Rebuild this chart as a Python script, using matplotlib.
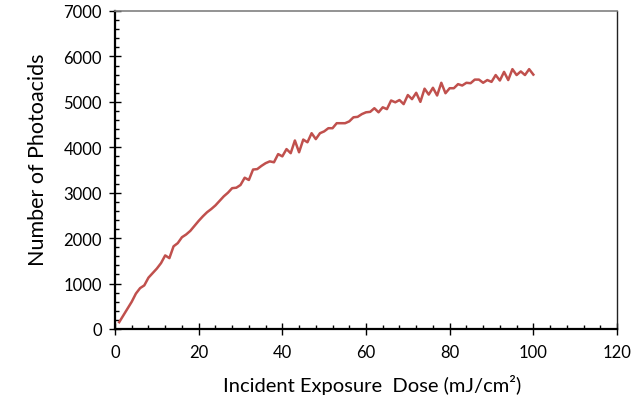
import matplotlib
matplotlib.use("Agg")
import matplotlib.pyplot as plt
from matplotlib.ticker import MultipleLocator

dose = list(range(1, 101))
photoacids = [
    150, 300, 450, 600, 780, 900, 960, 1130, 1230, 1330,
    1450, 1620, 1560, 1820, 1890, 2020, 2080, 2160, 2270, 2380,
    2480, 2570, 2640, 2720, 2820, 2920, 3000, 3100, 3110, 3170,
    3330, 3280, 3510, 3520, 3590, 3650, 3690, 3670, 3850, 3800,
    3960, 3870, 4150, 3890, 4170, 4110, 4310, 4180, 4310, 4350,
    4420, 4420, 4530, 4530, 4530, 4570, 4660, 4670, 4730, 4770,
    4780, 4860, 4770, 4880, 4840, 5030, 4990, 5040, 4950, 5150,
    5060, 5200, 5000, 5290, 5160, 5310, 5140, 5420, 5190, 5300,
    5300, 5390, 5360, 5420, 5410, 5490, 5490, 5420, 5480, 5440,
    5590, 5470, 5660, 5480, 5720, 5590, 5670, 5590, 5720, 5600,
]

plt.rcParams['font.family'] = ['Lato', 'DejaVu Sans']

fig = plt.figure(figsize=(6.42, 4.06), dpi=100)
ax = fig.add_axes([115/642, 1 - 330/406, (617-115)/642, (330-12)/406])

ax.plot(dose, photoacids, color='#C0504D', linewidth=1.8)

ax.set_xlim(0, 120)
ax.set_ylim(0, 7000)
ax.xaxis.set_major_locator(MultipleLocator(20))
ax.xaxis.set_minor_locator(MultipleLocator(4))
ax.yaxis.set_major_locator(MultipleLocator(1000))
ax.yaxis.set_minor_locator(MultipleLocator(200))

ax.spines['left'].set_linewidth(1.6)
ax.spines['bottom'].set_linewidth(1.6)
ax.spines['left'].set_color('black')
ax.spines['bottom'].set_color('black')
ax.spines['top'].set_linewidth(1.2)
ax.spines['top'].set_color('#808080')
ax.spines['right'].set_linewidth(1.0)
ax.spines['right'].set_color('#222222')

ax.tick_params(which='major', direction='inout', length=9, width=1.0, labelsize=12, color='black')
ax.tick_params(axis='x', which='major', pad=6)
ax.tick_params(axis='y', which='major', pad=5)
ax.tick_params(which='minor', direction='in', length=3, width=1.0, color='black')
ax.tick_params(top=False, right=False, which='both')

ax.set_xlabel('Incident Exposure  Dose (mJ/cm\u00b2)', fontsize=14.5)
ax.set_ylabel('Number of Photoacids', fontsize=15.5)
ax.xaxis.label.set_va('center')
ax.yaxis.label.set_va('center')
ax.xaxis.set_label_coords(0.512, -0.173)
ax.yaxis.set_label_coords(-0.153, 0.535)

fig.savefig('out.png', dpi=100)
